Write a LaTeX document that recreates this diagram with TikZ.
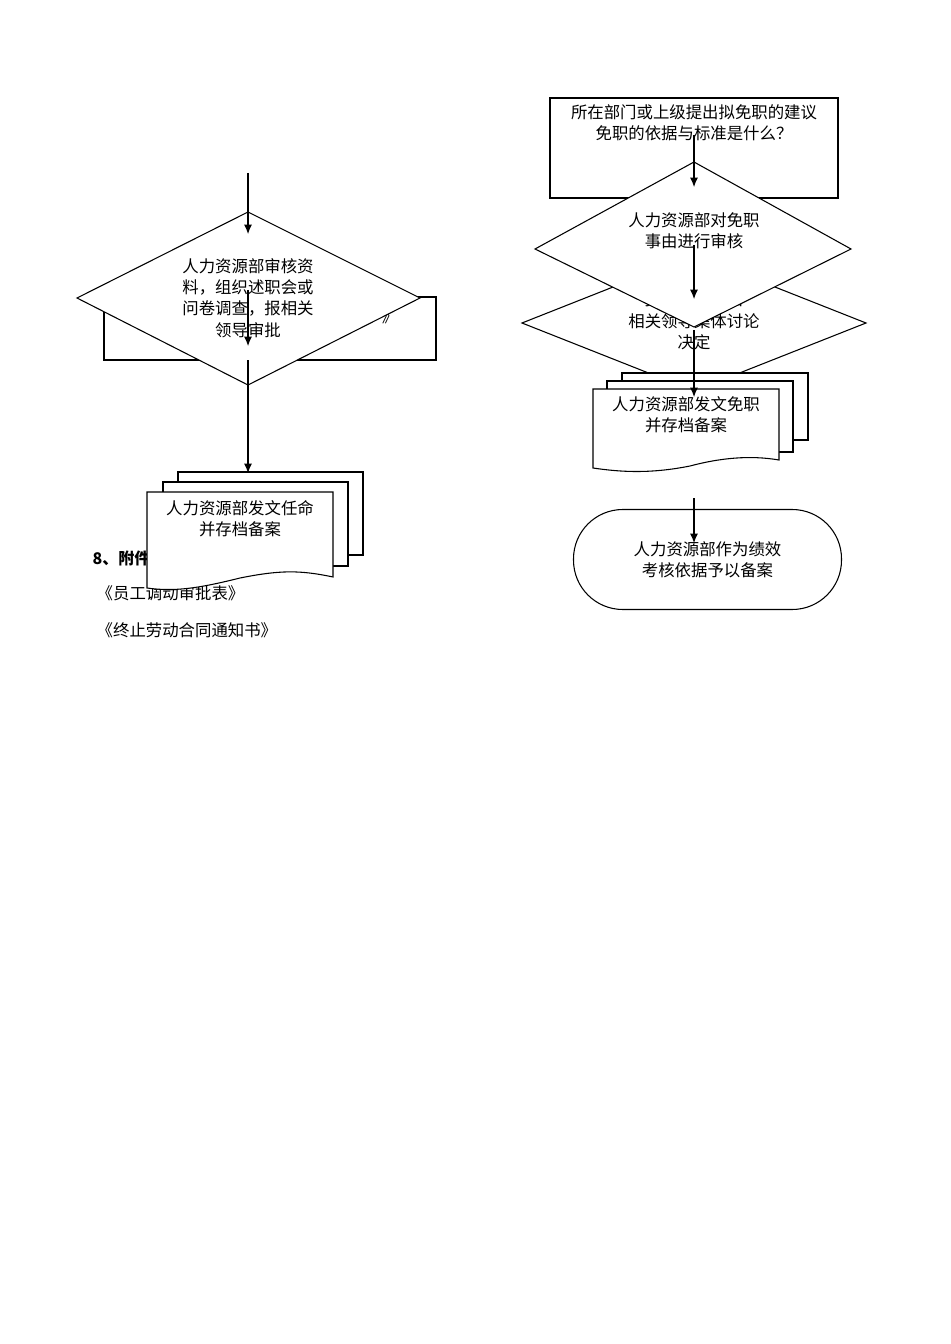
\documentclass[tikz,border=0pt]{standalone}
\usepackage{fontspec}
\newfontfamily\cjk{Noto Sans CJK SC}
\begin{document}
\begin{tikzpicture}[x=0.75pt,y=-0.75pt,
  shp/.style={draw,fill=white,line width=0.8pt},
  txt/.style={font=\cjk\fontsize{12.3}{16}\selectfont,align=center},
  arr/.style={line width=0.8pt,-{Latex[length=7pt,width=6pt]}}]
\usetikzlibrary{arrows.meta}
\useasboundingbox (0,0) rectangle (950,1344);
% left column
\node[font=\cjk\bfseries\fontsize{12}{14}\selectfont,anchor=west] (h8) at (88,558) {8、附件};
\node[txt,anchor=west] (t1) at (92,593) {《员工调动审批表》};
\node[txt,anchor=west] (t2) at (92,630) {《终止劳动合同通知书》};
\draw[shp] (104,297) rectangle (436,360);
\node[txt] (hid) at (390,316) {》};
\draw[shp] (248,212) -- (420,298) -- (248,385) -- (77,298) -- cycle;
\node[txt] (d1) at (248,298) {人力资源部审核资\\料，组织述职会或\\问卷调查，报相关\\领导审批};
\coordinate (a0) at (248,173);
\coordinate (a1) at (248,234);
\draw[arr] (a0) -- (a1);
\coordinate (b0) at (248,290);
\coordinate (b1) at (248,346);
\draw[arr] (b0) -- (b1);
\coordinate (c0) at (248,360);
\coordinate (c1) at (248,473);
\draw[arr] (c0) -- (c1);
\draw[shp] (178,472) rectangle (363,555);
\draw[shp] (163,482) rectangle (348,566);
\draw[shp] (147,492) -- (333,492) -- (333,577) .. controls (300,570) and (280,570) .. (240,578) .. controls (200,588) and (175,592) .. (147,588) -- cycle;
\node[txt] (doc1) at (240,519) {人力资源部发文任命\\并存档备案};
% right column
\draw[shp] (550,98) rectangle (838,198);
\node[txt] (r1) at (694,123) {所在部门或上级提出拟免职的建议\\免职的依据与标准是什么？};
\draw[shp] (694,255) -- (866,323) -- (694,391) -- (522,323) -- cycle;
\node[txt] (d3) at (694,321) {报总经理或由\\相关领导集体讨论\\决定};
\draw[shp] (694,162) -- (851,249) -- (694,327) -- (535,249) -- cycle;
\node[txt] (d2) at (694,231) {人力资源部对免职\\事由进行审核};
\coordinate (e0) at (694,135);
\coordinate (e1) at (694,187);
\draw[arr] (e0) -- (e1);
\coordinate (f0) at (694,245);
\coordinate (f1) at (694,299);
\draw[arr] (f0) -- (f1);
\draw[shp] (622,373) rectangle (808,440);
\draw[shp] (607,381) rectangle (793,452);
\draw[shp] (593,389) -- (779,389) -- (779,460) .. controls (750,455) and (720,458) .. (690,466) .. controls (650,474) and (620,472) .. (593,468) -- cycle;
\node[txt] (doc2) at (686,415) {人力资源部发文免职\\并存档备案};
\coordinate (g0) at (694,330);
\coordinate (g1) at (694,397);
\draw[arr] (g0) -- (g1);
\node[shp,rounded corners=37pt,minimum width=201pt*0.75/0.75,minimum height=75pt] (term) at (707.5,559.5) {};
\node[txt] (tt) at (707.5,559.5) {人力资源部作为绩效\\考核依据予以备案};
\coordinate (h0) at (694,498);
\coordinate (h1) at (694,543);
\draw[arr] (h0) -- (h1);
\end{tikzpicture}
\end{document}
